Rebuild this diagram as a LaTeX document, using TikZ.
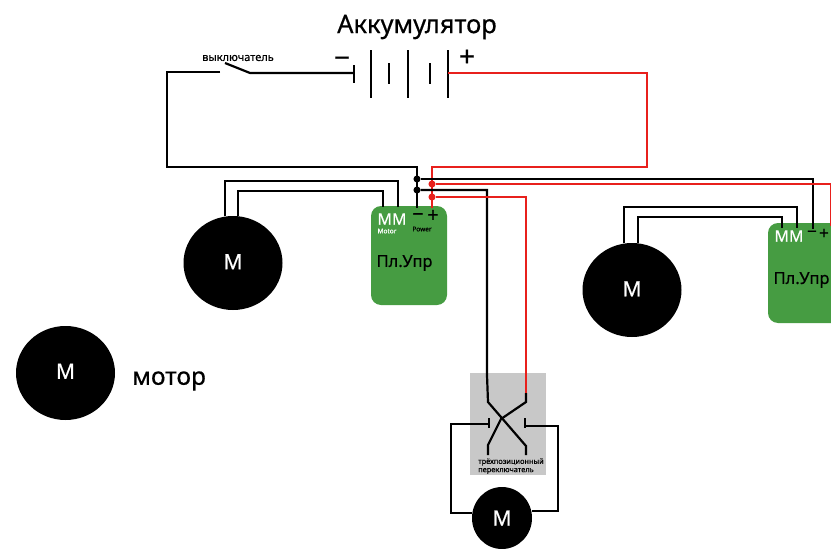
\documentclass[tikz,border=0pt]{standalone}
\usepackage{fontspec}
\setmainfont{Noto Sans}[RawFeature={embolden=0.5}]
\usepackage[HTML]{xcolor}
\usetikzlibrary{positioning, calc, shapes.geometric}
\definecolor{boardgreen}{HTML}{469C42}
\definecolor{switchgray}{HTML}{C8C8C8}
\definecolor{wirered}{HTML}{E8201C}

\begin{document}
\begin{tikzpicture}[x=1pt,y=-1pt,
  wire/.style={line width=2.2pt,black,line join=miter},
  redwire/.style={line width=1.7pt,wirered,line join=miter},
  plate/.style={line width=2pt,black},
  dot/.style={circle,fill,inner sep=2.5pt},
  motor/.style={ellipse,fill=black,text=white,inner sep=0pt,minimum width=99pt,minimum height=94pt,font=\fontsize{21}{24}\selectfont},
  board/.style={rectangle,rounded corners=10pt,fill=boardgreen,inner sep=0pt,minimum width=76pt,minimum height=99pt},
  lbl/.style={inner sep=0pt,font=\fontsize{#1}{#1}\selectfont},
  lbl/.default=14]
\useasboundingbox (0,0) rectangle (831,549);
\clip (0,0) rectangle (831,549);
% switch box
\node[rectangle,fill=switchgray,inner sep=0pt,minimum width=76pt,minimum height=102pt] (swbox) at (508,424) {};
% boards
\node[board] (boardA) at (409,255.5) {};
\node[board,minimum width=84pt,minimum height=100pt] (boardB) at (810,273) {};
% battery
\coordinate (batMinus) at (354,73);
\coordinate (batPlus) at (448,73);
\draw[plate] (354,65)--(354,83);
\foreach \p in {371,408,448}{\draw[plate] (\p,50)--(\p,98);}
\foreach \p in {389,430}{\draw[plate] (\p,63)--(\p,84);}
% junctions
\coordinate (topBlack) at (417,167);
\coordinate (topRed) at (432,167);
\node[dot,black] (jA) at (417,179) {};
\node[dot,black] (jB) at (417,190) {};
\node[dot,wirered] (jC) at (432,184) {};
\node[dot,wirered] (jD) at (432,197) {};
% main switch
\coordinate (swL) at (220,72);
\coordinate (swT) at (225,63);
\coordinate (swR) at (250,73);
\draw[wire] (batMinus)--(swR)--(swT);
\draw[wire] (swL)--(167,72)--(167,167)--(topBlack)--(417,208);
% red supply
\draw[redwire] (batPlus)--(647,73)--(647,167)--(topRed)--(432,208);
% motors
\node[motor] (motorA) at (233,263) {\raisebox{2.5pt}{M}};
\node[motor] (motorB) at (632,290) {\raisebox{2.5pt}{M}};
\node[motor] (motorC) at (65.5,373) {\raisebox{3.5pt}{M}};
\node[motor,minimum width=60pt,minimum height=62pt] (motorD) at (502,518) {M};
% motor wires, left
\draw[wire] (motorA.100) |- (398,181) -- (398,207);
\draw[wire] (motorA.84) |- (383,191) -- (383,207);
% motor wires, right
\draw[wire] (motorB.100) |- (797,207) -- (797,228);
\draw[wire] (motorB.83) |- (782,217) -- (782,228);
% supply to right board
\draw[wire] (jA) -- (813,179) -- (813,229);
\draw[redwire] (jC) -- (831,184) -- (831,226);
% three position switch
\coordinate (inB) at (488,402);
\coordinate (inR) at (526,393);
\coordinate (inRb) at (526,402);
\coordinate (crossC) at (501,419);
\coordinate (outL) at (488,445);
\coordinate (outR) at (526,446);
\draw[wire] (jB) -- (487,190) -- (487,375) -- (inB) -- (outR) -- (526,455);
\draw[redwire] (jD) -- (526,197) -- (inR);
\draw[wire] (inR) -- (inRb) -- (crossC) -- (outL) -- (488,455);
\draw[wire] (489,418)--(489,428);
\draw[wire] (525,418)--(525,428);
\draw[wire] (489,424) -- (451,424) -- (451,513) -- (motorD.west |- 0,513);
\draw[wire] (525,426) -- (558,426) -- (558,511) -- (motorD.east |- 0,511);
% labels
\node[lbl=25.5] (batTxt) at (417,27) {Аккумулятор};
\node[lbl=11] (swTxt) at (238,58) {выключатель};
\node[lbl=28] (batM) at (342,62) {−};
\node[lbl=28] (batP) at (467,58) {+};
\node[lbl=24.5,anchor=west] (motorTxt) at (132,381) {мотор};
\node[lbl=7.4,anchor=west] (sw3a) at (478,462) {трёхпозиционный};
\node[lbl=7.4,anchor=west] (sw3b) at (478,471) {переключатель};
\foreach \n/\x/\y/\t in {mmA/392/219/MM,mmB/789/236/MM}{
  \node[lbl=16,text=white] (\n) at (\x,\y) {\t};}
\node[lbl=6.5,text=white] (motTxt) at (387,231) {Motor};
\node[lbl=6.5] (powTxt) at (422,229) {Power};
\node[lbl=20] (bmA) at (418,217) {−};
\node[lbl=20] (bpA) at (433,216) {+};
\node[lbl=17] (bmB) at (812,234) {−};
\node[lbl=17] (bpB) at (824,234) {+};
\node[lbl=16.5] (upA) at (404.5,263) {Пл.Упр};
\node[lbl=16.5] (upB) at (801.5,280) {Пл.Упр};
\end{tikzpicture}
\end{document}
